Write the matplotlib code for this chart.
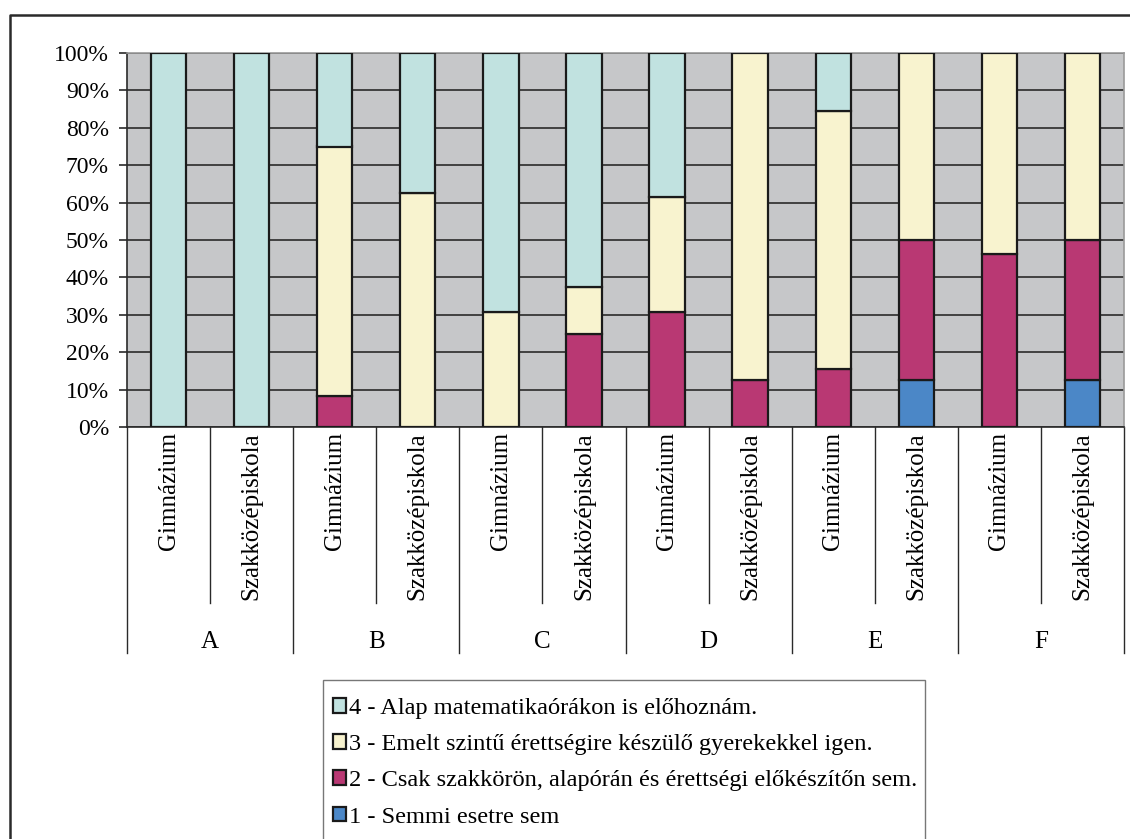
import matplotlib
matplotlib.use("Agg")
import matplotlib.pyplot as plt
import numpy as np
from matplotlib.lines import Line2D
from matplotlib.patches import Rectangle

### Data (percent of answers)
groups = ['A', 'B', 'C', 'D', 'E', 'F']
schools = ['Gimnázium', 'Szakközépiskola']
s1 = [0, 0, 0, 0, 0, 0, 0, 0, 0, 12.5, 0, 12.5]
s2 = [0, 0, 8.3, 0, 0, 25, 30.8, 12.5, 15.4, 37.5, 46.2, 37.5]
s3 = [0, 0, 66.7, 62.5, 30.8, 12.5, 30.8, 87.5, 69.2, 50, 53.8, 50]
s4 = [100, 100, 25, 37.5, 69.2, 62.5, 38.4, 0, 15.4, 0, 0, 0]
labels = ['1 - Semmi esetre sem',
          '2 - Csak szakkörön, alapórán és érettségi előkészítőn sem.',
          '3 - Emelt szintű érettségire készülő gyerekekkel igen.',
          '4 - Alap matematikaórákon is előhoznám.']
colors = ['#4B87C7', '#B93873', '#F8F3CF', '#C1E2E0']

plt.rcParams['font.family'] = ['Liberation Serif', 'DejaVu Serif']
fs_tick = 17
fs_cat = 18
fs_leg = 17.6

W, H = 1130, 839
fig = plt.figure(figsize=(W / 100, H / 100), dpi=100)

# plot area in pixels
x0, x1, ytop, ybot = 127, 1124, 53, 427
ax = fig.add_axes([x0 / W, (H - ybot) / H, (x1 - x0) / W, (ybot - ytop) / H])
ax.set_facecolor('#C6C7C9')

n = len(s1)
x = np.arange(n)
bottom = np.zeros(n)
containers = []
for vals, col in zip([s1, s2, s3, s4], colors):
    vals = np.array(vals, dtype=float)
    h = np.where(vals > 0, vals, np.nan)
    c = ax.bar(x, h, width=0.425, bottom=bottom, color=col,
               edgecolor='#1a1a1a', linewidth=1.6, zorder=3)
    containers.append(c)
    bottom += vals

ax.set_xlim(-0.5, n - 0.5)
ax.set_ylim(0, 100)
ax.set_yticks(np.arange(0, 101, 10))
ax.set_yticklabels([f'{v}%' for v in range(0, 101, 10)], fontsize=fs_tick)
ax.yaxis.grid(True, color='#2a2a2a', linewidth=1.2, zorder=1)
ax.set_axisbelow(True)
ax.tick_params(axis='y', direction='out', length=6, width=1.2, pad=7,
               color='#2a2a2a')
ax.set_xticks([])
for side in ['top', 'right']:
    ax.spines[side].set_color('#9a9a9a')
    ax.spines[side].set_linewidth(1.2)
for side in ['left', 'bottom']:
    ax.spines[side].set_color('#2a2a2a')
    ax.spines[side].set_linewidth(1.2)

# two-level category axis
tr = ax.get_xaxis_transform()
ph = ybot - ytop
y_in = -(603 - ybot) / ph
y_out = -(653 - ybot) / ph
y_grp = -(648 - ybot) / ph
y_lab = -(432 - ybot) / ph
for i in range(n):
    ax.text(x[i], y_lab, schools[i % 2], transform=tr, rotation=90,
            ha='center', va='top', fontsize=fs_cat)
for i in range(n + 1):
    yb = y_out if i % 2 == 0 else y_in
    ax.add_line(Line2D([i - 0.5, i - 0.5], [0, yb], transform=tr,
                       color='#2a2a2a', linewidth=1.0, clip_on=False))
for g, name in enumerate(groups):
    ax.text(2 * g + 0.5, y_grp, name, transform=tr, ha='center',
            va='baseline', fontsize=fs_cat)

# outer chart frame (top and left only visible)
fig.add_artist(Line2D([10 / W, 10 / W, 1.0], [0, 1 - 15 / H, 1 - 15 / H],
                      transform=fig.transFigure, color='#2a2a2a',
                      linewidth=1.8))

# legend box running off the bottom edge
fig.add_artist(Rectangle((323 / W, -0.05), (925 - 323) / W,
                         1 - 680 / H + 0.05, transform=fig.transFigure,
                         facecolor='white', edgecolor='#777777',
                         linewidth=1.0))
leg = fig.legend(containers[::-1], labels[::-1], loc='upper left',
                 bbox_to_anchor=(333 / W, 1 - 698 / H), frameon=False,
                 fontsize=fs_leg, handlelength=0.55, handleheight=0.55,
                 handletextpad=0.12, labelspacing=0.62, borderpad=0,
                 borderaxespad=0)

fig.savefig('out.png', dpi=100)
